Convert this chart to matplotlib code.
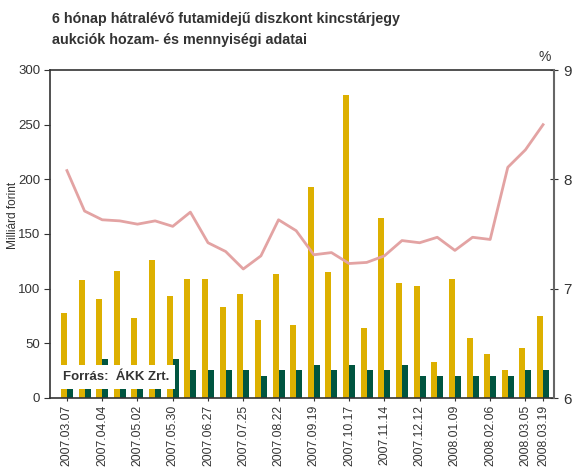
import numpy as np
import matplotlib
matplotlib.use("Agg")
import matplotlib.pyplot as plt

plt.rcParams['font.family'] = ['Liberation Sans', 'DejaVu Sans']

dates = ["2007.03.07", "2007.03.21", "2007.04.04", "2007.04.18", "2007.05.02", "2007.05.16",
         "2007.05.30", "2007.06.13", "2007.06.27", "2007.07.11", "2007.07.25", "2007.08.08",
         "2007.08.22", "2007.09.05", "2007.09.19", "2007.10.03", "2007.10.17", "2007.10.31",
         "2007.11.14", "2007.11.28", "2007.12.12", "2007.12.27", "2008.01.09", "2008.01.23",
         "2008.02.06", "2008.02.20", "2008.03.05", "2008.03.19"]
shown_labels = ["2007.03.07", "2007.04.04", "2007.05.02", "2007.05.30", "2007.06.27",
                "2007.07.25", "2007.08.22", "2007.09.19", "2007.10.17", "2007.11.14",
                "2007.12.12", "2008.01.09", "2008.02.06", "2008.03.05", "2008.03.19"]

# bids (yellow) and accepted (green), billion HUF
bids = [78, 108, 91, 116, 73, 126, 93, 109, 109, 83, 95, 71, 113, 67,
        193, 115, 277, 64, 165, 105, 102, 33, 109, 55, 40, 26, 46, 75]
accepted = [25, 25, 36, 25, 25, 25, 36, 26, 26, 26, 26, 20, 26, 26,
            30, 26, 30, 26, 26, 30, 20, 20, 20, 20, 20, 20, 26, 26]
# average yield, %
yields = [8.08, 7.71, 7.63, 7.62, 7.59, 7.62, 7.57, 7.70, 7.42, 7.34, 7.18, 7.30, 7.63, 7.53,
          7.31, 7.33, 7.23, 7.24, 7.30, 7.44, 7.42, 7.47, 7.35, 7.47, 7.45, 8.11, 8.27, 8.50]

yellow = "#DDB000"
green = "#005540"
pink = "#E3A3A3"
dark = "#333333"

fig = plt.figure(figsize=(5.76, 4.70), dpi=100)
ax = fig.add_axes([50 / 576, 72 / 470, 504 / 576, 328 / 470])

x = np.arange(len(dates))
w = 0.34
ax.bar(x - w / 2, bids, width=w, color=yellow, zorder=2)
ax.bar(x + w / 2, accepted, width=w, color=green, zorder=2)
ax.set_xlim(-0.96, len(dates) - 1 + 0.62)
ax.set_ylim(0, 300)
ax.set_yticks(range(0, 301, 50))
ax.set_xticks([dates.index(d) for d in shown_labels])
ax.set_xticklabels(shown_labels, rotation=90, fontsize=8.8, color=dark)
ax.tick_params(axis='y', labelsize=9.5, colors=dark, length=4, direction='out', pad=3)
ax.tick_params(axis='x', length=4, direction='inout', colors=dark, pad=3)
for s in ax.spines.values():
    s.set_color(dark)
    s.set_linewidth(1.2)

ax2 = ax.twinx()
ax2.plot(x, yields, color=pink, lw=2, zorder=3)
ax2.set_ylim(6, 9)
ax2.set_yticks([6, 7, 8, 9])
ax2.tick_params(axis='y', labelsize=11, colors=dark, length=6, direction='inout', pad=4)
ax2.spines['right'].set_color("#666666")
ax2.spines['right'].set_linewidth(1.5)
for k in ['top', 'left', 'bottom']:
    ax2.spines[k].set_visible(False)

fig.text(13 / 576, 1 - 215 / 470, "Milliárd forint", fontsize=8.6, color=dark,
         rotation=90, ha='center', va='center')
fig.text(545 / 576, 1 - 57 / 470, "%", fontsize=10, color=dark, ha='center', va='center')

fig.text(52 / 576, 1 - 12 / 470, "6 hónap hátralévő futamidejű diszkont kincstárjegy\naukciók hozam- és mennyiségi adatai",
         fontsize=10.3, fontweight='bold', color=dark, ha='left', va='top', linespacing=1.65)

ax.text(0.026, 0.065, "Forrás:  ÁKK Zrt.", transform=ax.transAxes, fontsize=9.5,
        fontweight='bold', color=dark, ha='left', va='center', zorder=5,
        bbox=dict(boxstyle='square,pad=0.45', fc='white', ec='none'))

fig.savefig("out.png", dpi=100)
